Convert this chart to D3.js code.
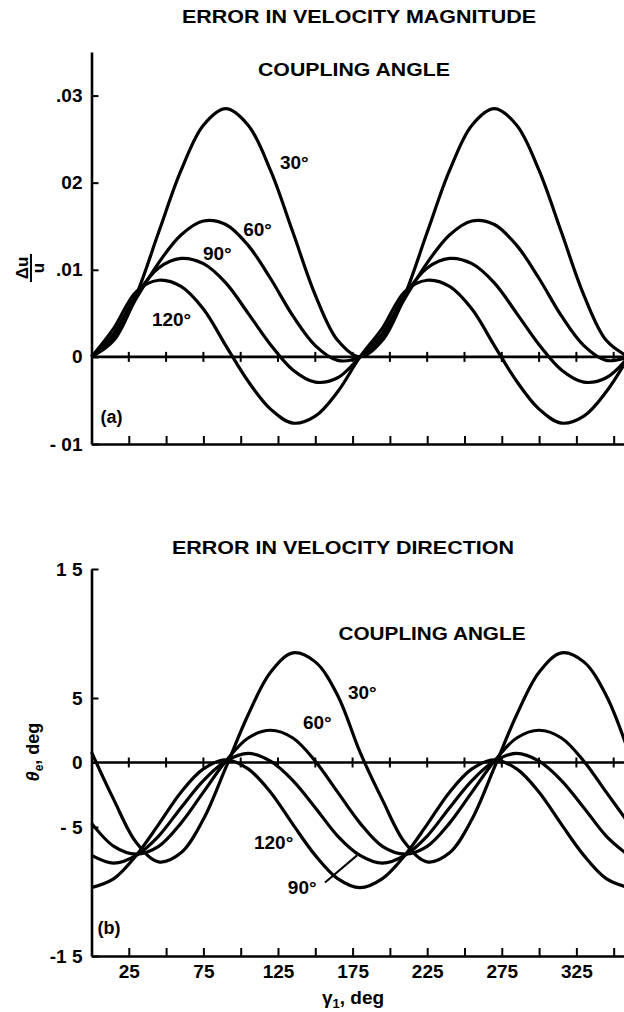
<!DOCTYPE html>
<html>
<body>

<style>
    body {
        margin: 0;
        background: white;
    }
    #view {
        display: block;
    }
    text {
        font-family: 'Liberation Sans', Arial, sans-serif;
        font-weight: bold;
        fill: black;
    }
    .curve {
        stroke: black;
        stroke-width: 3.2;
        fill: none;
    }
</style>

<svg id='view' width='624' height='1012'></svg>

<script src='https://cdnjs.cloudflare.com/ajax/libs/d3/7.8.5/d3.min.js'></script>

<script>
    // gamma_1, deg
    const gamma = [0, 15, 30, 45, 60, 75, 90, 105, 120, 135, 150, 165, 180,
                   195, 210, 225, 240, 255, 270, 285, 300, 315, 330, 345, 360];

    // (a) error in velocity magnitude, du/u, one series per coupling angle
    const mag30  = [0, .0019, .0071, .0143, .0214, .0266, .0285, .0266, .0214, .0143, .0071, .0019, 0,
                    .0019, .0071, .0143, .0214, .0266, .0285, .0266, .0214, .0143, .0071, .0019, 0];
    const mag60  = [0, .0022, .0067, .0108, .0140, .0156, .0152, .0128, .0090, .0047, .0013, -.0004, 0,
                    .0022, .0067, .0108, .0140, .0156, .0152, .0128, .0090, .0047, .0013, -.0004, 0];
    const mag90  = [0, .0027, .0071, .0102, .0113, .0107, .0085, .0050, .0014, -.0015, -.0029, -.0024, 0,
                    .0027, .0071, .0102, .0113, .0107, .0085, .0050, .0014, -.0015, -.0029, -.0024, 0];
    const mag120 = [0, .0033, .0075, .0088, .0081, .0055, .0013, -.0028, -.0060, -.0076, -.0068, -.0040, 0,
                    .0033, .0075, .0088, .0081, .0055, .0013, -.0028, -.0060, -.0076, -.0068, -.0040, 0];

    // (b) error in velocity direction, deg
    const dir30  = [0.8, -2.9, -6.2, -7.7, -7.0, -4.4, -0.4, 3.7, 7.0, 8.5, 7.8, 5.2, 0.8,
                    -2.9, -6.2, -7.7, -7.0, -4.4, -0.4, 3.7, 7.0, 8.5, 7.8, 5.2, 0.8];
    const dir60  = [-4.7, -6.5, -7.1, -6.5, -4.7, -2.3, 0.1, 1.9, 2.5, 1.9, 0.1, -2.3, -4.7,
                    -6.5, -7.1, -6.5, -4.7, -2.3, 0.1, 1.9, 2.5, 1.9, 0.1, -2.3, -4.7];
    const dir90  = [-7.2, -7.8, -7.2, -5.7, -3.5, -1.4, 0.1, 0.7, 0.1, -1.4, -3.5, -5.7, -7.2,
                    -7.8, -7.2, -5.7, -3.5, -1.4, 0.1, 0.7, 0.1, -1.4, -3.5, -5.7, -7.2];
    const dir120 = [-9.7, -9.0, -7.2, -4.8, -2.3, -0.5, 0.2, -0.5, -2.3, -4.8, -7.2, -9.0, -9.7,
                    -9.0, -7.2, -4.8, -2.3, -0.5, 0.2, -0.5, -2.3, -4.8, -7.2, -9.0, -9.7];

    // ticks
    const xTicks = [25, 50, 75, 100, 125, 150, 175, 200, 225, 250, 275, 300, 325, 350];
    const xTickLabels = [25, 75, 125, 175, 225, 275, 325];
    const magTicks = [-0.01, 0, 0.01, 0.02, 0.03];
    const magTickLabels = ['- 01', '0', '.01', '02', '.03'];
    const dirTicks = [-15, -5, 0, 5, 15];
    const dirTickLabels = ['-1 5', '- 5', '0', '5', '1 5'];

    const svg = d3.select('#view');

    const x = d3.scaleLinear().domain([0, 360]).range([91.5, 628.6]);
    const yMag = d3.scaleLinear().domain([-0.01, 0.035]).range([444, 52]);
    const yDir = d3.scaleLinear().domain([-15, 15]).range([956, 569]);

    /**
     * @function drawAxes
     * @desc Left axis, bottom axis and the zero line with crossing ticks
     */
    function drawAxes(y, ticks, labels, showX) {
        const left = svg.append('g')
            .attr('transform', `translate(${x(0)},0)`)
            .call(d3.axisLeft(y).tickValues(ticks)
                .tickFormat((d, i) => labels[i])
                .tickSize(-7).tickSizeOuter(0).tickPadding(9));
        left.select('.domain').attr('stroke-width', 2.6);
        left.selectAll('.tick line').attr('stroke-width', 2);
        left.selectAll('text').attr('font-size', 19);

        const y0 = y.domain()[0];
        const bottom = svg.append('g')
            .attr('transform', `translate(0,${y(y0)})`)
            .call(d3.axisBottom(x).tickValues(xTicks)
                .tickFormat(d => (showX && xTickLabels.includes(d)) ? d : '')
                .tickSize(-8).tickSizeOuter(0).tickPadding(9));
        bottom.select('.domain').attr('stroke-width', 2.6);
        bottom.selectAll('.tick line').attr('stroke-width', 2);
        bottom.selectAll('text').attr('font-size', 19);

        // zero line
        svg.append('line')
            .attr('x1', x(0)).attr('x2', x(360))
            .attr('y1', y(0)).attr('y2', y(0))
            .attr('stroke', 'black').attr('stroke-width', 2.6);
        svg.append('g').selectAll('line')
            .data(xTicks)
            .join('line')
            .attr('x1', d => x(d)).attr('x2', d => x(d))
            .attr('y1', y(0) - 5).attr('y2', y(0) + 5)
            .attr('stroke', 'black').attr('stroke-width', 2);
    }

    /**
     * @function drawCurves
     * @desc One path per coupling angle
     */
    function drawCurves(y, series) {
        const line = d3.line()
            .x((d, i) => x(gamma[i]))
            .y(d => y(d))
            .curve(d3.curveCatmullRom.alpha(0.5));
        svg.append('g').selectAll('path')
            .data(series)
            .join('path')
            .attr('class', 'curve')
            .attr('d', line);
    }

    function label(txt, px, py, size, anchor) {
        return svg.append('text')
            .attr('x', px).attr('y', py)
            .attr('font-size', size)
            .attr('text-anchor', anchor || 'start')
            .attr('dy', '0.35em')
            .text(txt);
    }

    // ---------- (a) velocity magnitude ----------
    label('ERROR IN VELOCITY MAGNITUDE', 359, 16, 19, 'middle')
        .attr('textLength', 354).attr('lengthAdjust', 'spacingAndGlyphs');
    label('COUPLING ANGLE', 354, 69, 19, 'middle')
        .attr('textLength', 192).attr('lengthAdjust', 'spacingAndGlyphs');
    drawAxes(yMag, magTicks, magTickLabels, false);
    drawCurves(yMag, [mag30, mag60, mag90, mag120]);
    label('30°', x(126.3), yMag(0.0223), 19);
    label('60°', x(101.7), yMag(0.0146), 19);
    label('90°', x(74.7), yMag(0.0119), 19);
    label('120°', x(40.5), yMag(0.0043), 19);
    label('(a)', x(6), yMag(-0.0069), 18);

    // du/u fraction, rotated
    const frac = svg.append('g').attr('transform', 'translate(31,268) rotate(-90)');
    frac.append('text').attr('text-anchor', 'middle').attr('y', -3).attr('font-size', 17).text('Δu');
    frac.append('line').attr('x1', -14).attr('x2', 14).attr('stroke', 'black').attr('stroke-width', 2);
    frac.append('text').attr('text-anchor', 'middle').attr('y', 13).attr('font-size', 17).text('u');

    // ---------- (b) velocity direction ----------
    label('ERROR IN VELOCITY DIRECTION', 343, 547, 19, 'middle')
        .attr('textLength', 342).attr('lengthAdjust', 'spacingAndGlyphs');
    label('COUPLING ANGLE', 432, 633, 19, 'middle')
        .attr('textLength', 187).attr('lengthAdjust', 'spacingAndGlyphs');
    drawAxes(yDir, dirTicks, dirTickLabels, true);
    drawCurves(yDir, [dir30, dir60, dir90, dir120]);
    label('30°', x(171.9), yDir(5.4), 19);
    label('60°', x(141.7), yDir(3.1), 19);
    label('120°', x(108.9), yDir(-6.2), 19);
    label('90°', x(131.6), yDir(-9.7), 19);
    svg.append('line')
        .attr('x1', x(156.5)).attr('y1', yDir(-9.3))
        .attr('x2', x(178)).attr('y2', yDir(-7.2))
        .attr('stroke', 'black').attr('stroke-width', 2);
    label('(b)', x(4), yDir(-12.8), 18);

    const yl = svg.append('text').attr('transform', 'translate(39,752) rotate(-90)')
        .attr('text-anchor', 'middle').attr('font-size', 18);
    yl.append('tspan').attr('font-style', 'italic').text('θ');
    yl.append('tspan').attr('font-size', 12).attr('dy', 4).text('e');
    yl.append('tspan').attr('dy', -4).text(', deg');

    const xl = svg.append('text').attr('x', 353).attr('y', 1004)
        .attr('text-anchor', 'middle').attr('font-size', 19);
    xl.append('tspan').text('γ');
    xl.append('tspan').attr('font-size', 13).attr('dy', 4).text('1');
    xl.append('tspan').attr('dy', -4).text(', deg');
</script>

</body>
</html>
